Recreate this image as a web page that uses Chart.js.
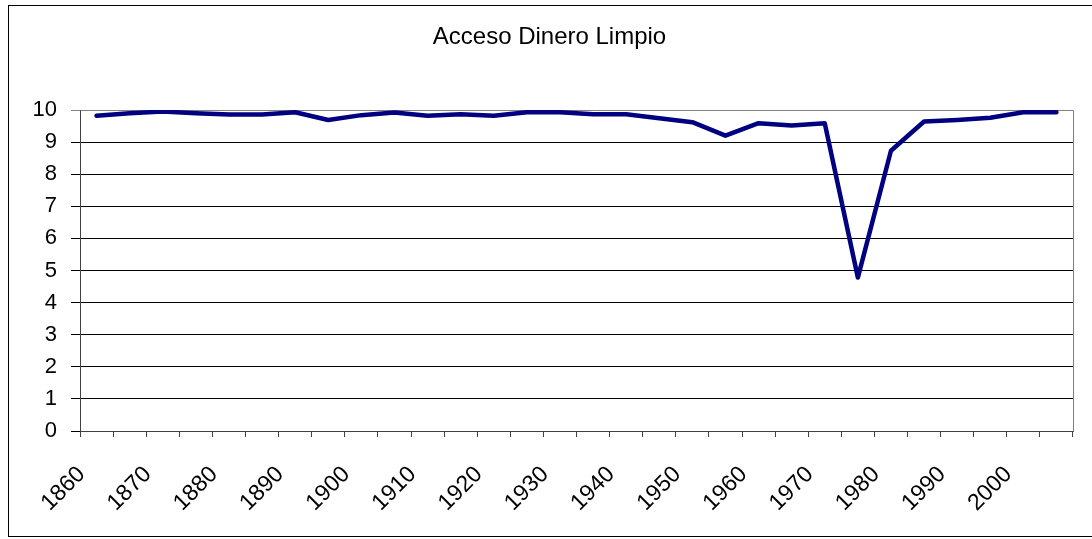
<!DOCTYPE html>
<html>
<head>
<meta charset="utf-8">
<script src="https://cdn.jsdelivr.net/npm/chart.js@4.4.1/dist/chart.umd.min.js"></script>
<style>
html,body{margin:0;padding:0;background:#fff;}
#wrap{width:1092px;height:539px;position:relative;}
</style>
</head>
<body>
<div id="wrap"><canvas id="c" width="1092" height="539"></canvas></div>
<script>
const years = [1860,1865,1870,1875,1880,1885,1890,1895,1900,1905,1910,1915,1920,1925,1930,1935,1940,1945,1950,1955,1960,1965,1970,1975,1980,1985,1990,1995,2000,2005];
const values = [9.82,9.9,9.95,9.9,9.86,9.86,9.93,9.69,9.84,9.92,9.82,9.87,9.82,9.93,9.93,9.87,9.87,9.74,9.62,9.2,9.59,9.52,9.59,4.78,8.73,9.64,9.69,9.76,9.93,9.93];
const shownLabels = ['1860','1870','1880','1890','1900','1910','1920','1930','1940','1950','1960','1970','1980','1990','2000'];
const yTicks = [0,1,2,3,4,5,6,7,8,9,10];
const titleText = 'Acceso Dinero Limpio';

const frame = {
  id: 'frame',
  beforeDraw(chart) {
    const ctx = chart.ctx;
    ctx.save();
    ctx.fillStyle = '#fff';
    ctx.fillRect(0,0,chart.width,chart.height);
    ctx.strokeStyle = '#000';
    ctx.lineWidth = 1;
    ctx.strokeRect(8.5, 5.5, 1100, 531);
    ctx.restore();
  },
  beforeDatasetsDraw(chart) {
    const a = chart.chartArea, ctx = chart.ctx;
    ctx.save();
    ctx.strokeStyle = '#808080';
    ctx.lineWidth = 1;
    ctx.beginPath();
    ctx.moveTo(Math.round(a.left)+0.5, Math.round(a.top)+0.5);
    ctx.lineTo(Math.round(a.right)+0.5, Math.round(a.top)+0.5);
    ctx.lineTo(Math.round(a.right)+0.5, Math.round(a.bottom)+0.5);
    ctx.stroke();
    ctx.restore();
  }
};

new Chart(document.getElementById('c'), {
  type: 'line',
  data: {
    labels: years.map(String),
    datasets: [{
      data: values,
      borderColor: '#000080',
      borderWidth: 4.5,
      pointRadius: 0,
      tension: 0,
      fill: false,
      borderCapStyle: 'round',
      borderJoinStyle: 'round'
    }]
  },
  options: {
    responsive: false,
    animation: false,
    layout: { padding: { left: 26, right: 19, top: 0, bottom: 0 } },
    plugins: {
      legend: { display: false },
      tooltip: { enabled: false },
      title: {
        display: true,
        text: titleText,
        color: '#000',
        font: { family: 'Liberation Sans, Arial, sans-serif', size: 24, weight: 'normal', lineHeight: 1.2 },
        padding: { top: 23, bottom: 58.2 }
      }
    },
    scales: {
      x: {
        type: 'category',
        offset: true,
        border: { display: true, color: '#404040', width: 1 },
        grid: { display: true, drawOnChartArea: false, drawTicks: true, tickLength: 6, color: '#404040', offset: true },
        ticks: {
          autoSkip: false,
          maxRotation: 45,
          minRotation: 45,
          color: '#000',
          padding: 24,
          labelOffset: -15,
          font: { family: 'Liberation Sans, Arial, sans-serif', size: 23 },
          callback: function(v, i) {
            const l = String(years[i]);
            return shownLabels.includes(l) ? l : '';
          }
        },
        afterFit(scale) { scale.height = 108; scale.paddingLeft = 0; scale.paddingRight = 0; }
      },
      y: {
        min: 0,
        max: 10,
        border: { display: true, color: '#404040', width: 1 },
        grid: {
          color: (c) => (c.tick && c.tick.value === 10) ? '#808080' : '#000',
          lineWidth: 1,
          drawTicks: true,
          tickLength: 9
        },
        ticks: {
          stepSize: 1,
          color: '#000',
          padding: 14,
          font: { family: 'Liberation Sans, Arial, sans-serif', size: 22 },
          callback: (v) => yTicks.includes(v) ? String(v) : ''
        },
        afterFit(scale) { scale.width = 54; }
      }
    }
  },
  plugins: [frame]
});
</script>
</body>
</html>
